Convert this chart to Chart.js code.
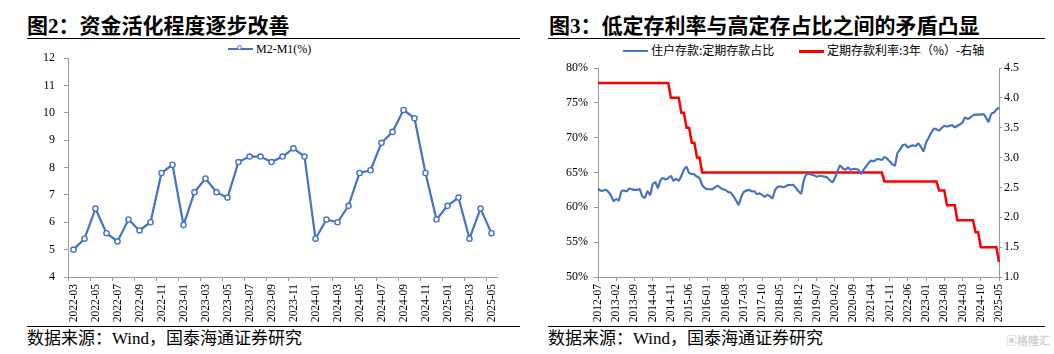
<!DOCTYPE html>
<html>
<head>
<meta charset="utf-8">
<script src="https://cdn.jsdelivr.net/npm/chart.js@4.4.0/dist/chart.umd.min.js"></script>
<style>
body{margin:0;background:#fff;width:1054px;height:354px;position:relative;overflow:hidden;font-family:"Liberation Serif","Noto Sans CJK SC",serif;color:#000;}
.title{position:absolute;top:14px;font-size:21px;font-weight:bold;white-space:nowrap;line-height:24px;}
.rule{position:absolute;height:0;border-top:1.5px solid #000;}
.src{position:absolute;top:329px;font-size:17px;line-height:20px;white-space:nowrap;}
.legend{position:absolute;font-size:12px;line-height:14px;white-space:nowrap;}
.legend .cjk{font-family:"Noto Sans CJK SC",sans-serif;}
.swatch{display:inline-block;width:25px;height:2px;vertical-align:middle;margin-right:3px;position:relative;top:-1px;}
.dot{position:absolute;left:9px;top:-3px;width:5px;height:5px;border-radius:50%;border:1.4px solid #4472C4;background:#fff;box-sizing:border-box;}
.mark{position:absolute;left:1006px;top:333px;font-family:"Noto Sans CJK SC",sans-serif;font-size:11px;line-height:14px;font-weight:bold;color:#d0d0d0;white-space:nowrap;}
canvas{position:absolute;}
</style>
</head>
<body>
<div class="title" style="left:27px;">图2：资金活化程度逐步改善</div>
<div class="title" style="left:549px;">图3：低定存利率与高定存占比之间的矛盾凸显</div>
<div class="rule" style="left:27px;width:493px;top:38px;"></div>
<div class="rule" style="left:548px;width:497px;top:38px;"></div>
<div class="rule" style="left:27px;width:493px;top:326px;"></div>
<div class="rule" style="left:548px;width:497px;top:326px;"></div>
<div class="src" style="left:27px;">数据来源：Wind，国泰海通证券研究</div>
<div class="src" style="left:548px;">数据来源：Wind，国泰海通证券研究</div>
<div class="mark">▣格隆汇</div>

<div class="legend" style="left:228px;top:42px;"><span class="swatch" style="background:#4472C4;"><span class="dot"></span></span>M2-M1(%)</div>
<div class="legend" style="left:623px;top:43px;"><span class="swatch" style="background:#4472C4;"></span><span class="cjk">住户存款:定期存款占比</span></div>
<div class="legend" style="left:799px;top:43px;"><span class="swatch" style="background:#FF0000;height:2.5px;"></span><span class="cjk">定期存款利率:3年（%）-右轴</span></div>

<canvas id="m2m1Chart" width="525" height="290" style="left:0;top:40px;"></canvas>
<canvas id="depositChart" width="524" height="290" style="left:530px;top:40px;"></canvas>

<script>
// 图2 M2-M1
const m2m1Months = [
    '2022-03', '2022-04', '2022-05', '2022-06', '2022-07', '2022-08', '2022-09', '2022-10', '2022-11', '2022-12',
    '2023-01', '2023-02', '2023-03', '2023-04', '2023-05', '2023-06', '2023-07', '2023-08', '2023-09', '2023-10',
    '2023-11', '2023-12', '2024-01', '2024-02', '2024-03', '2024-04', '2024-05', '2024-06', '2024-07', '2024-08',
    '2024-09', '2024-10', '2024-11', '2024-12', '2025-01', '2025-02', '2025-03', '2025-04', '2025-05'
];
const m2m1Values = [
    5.0, 5.4, 6.5, 5.6, 5.3, 6.1, 5.7, 6.0, 7.8, 8.1,
    5.9, 7.1, 7.6, 7.1, 6.9, 8.2, 8.4, 8.4, 8.2, 8.4,
    8.7, 8.4, 5.4, 6.1, 6.0, 6.6, 7.8, 7.9, 8.9, 9.3,
    10.1, 9.8, 7.8, 6.1, 6.6, 6.9, 5.4, 6.5, 5.6
];

// 图3 定期存款占比 / 3年定存利率, monthly 2012-07 .. 2025-05
const depositStart = '2012-07';
const depositCount = 155;
const timeDepositShare = [
    62.7, 62.4, 62.4, 62.5, 62.2, 61.7, 60.9, 61.2, 61.0, 62.3,
    62.4, 62.3, 62.7, 62.6, 62.5, 62.5, 62.6, 61.6, 61.4, 62.3,
    61.8, 63.3, 63.6, 62.8, 63.9, 64.2, 64.0, 64.2, 64.5, 63.8,
    64.1, 63.8, 64.5, 65.4, 65.8, 64.9, 64.8, 64.7, 64.4, 64.2,
    63.2, 62.8, 62.6, 62.6, 62.6, 62.9, 63.1, 62.8, 62.6, 62.5,
    62.2, 62.1, 61.6, 61.0, 60.4, 61.5, 62.2, 62.4, 62.5, 62.3,
    62.3, 61.9, 62.0, 61.8, 61.5, 61.8, 61.6, 61.3, 62.5, 62.9,
    63.0, 62.9, 63.0, 63.2, 63.2, 63.2, 62.8, 62.3, 62.0, 63.8,
    64.7, 64.8, 64.7, 64.6, 64.4, 64.5, 64.5, 64.4, 64.3, 63.9,
    63.6, 64.2, 65.2, 66.0, 65.6, 65.4, 65.7, 65.4, 65.5, 65.5,
    65.4, 64.8, 65.4, 65.9, 66.4, 66.7, 66.6, 66.9, 66.9, 66.8,
    67.2, 67.0, 66.6, 66.2, 66.0, 67.8, 68.3, 68.9, 69.0, 68.6,
    68.8, 68.9, 68.8, 69.2, 68.7, 68.1, 69.3, 70.0, 70.7, 71.3,
    71.2, 71.0, 71.4, 71.7, 71.6, 71.7, 71.8, 71.5, 71.7, 71.9,
    72.2, 72.9, 72.7, 72.9, 73.2, 73.3, 73.3, 73.3, 73.4, 72.9,
    72.3, 73.4, 73.6, 74.0, 74.3
];
const depositRate3y = [
    4.25, 4.25, 4.25, 4.25, 4.25, 4.25, 4.25, 4.25, 4.25, 4.25,
    4.25, 4.25, 4.25, 4.25, 4.25, 4.25, 4.25, 4.25, 4.25, 4.25,
    4.25, 4.25, 4.25, 4.25, 4.25, 4.25, 4.25, 4.25, 4.0, 4.0,
    4.0, 4.0, 3.75, 3.75, 3.5, 3.5, 3.25, 3.25, 3.0, 3.0,
    2.75, 2.75, 2.75, 2.75, 2.75, 2.75, 2.75, 2.75, 2.75, 2.75,
    2.75, 2.75, 2.75, 2.75, 2.75, 2.75, 2.75, 2.75, 2.75, 2.75,
    2.75, 2.75, 2.75, 2.75, 2.75, 2.75, 2.75, 2.75, 2.75, 2.75,
    2.75, 2.75, 2.75, 2.75, 2.75, 2.75, 2.75, 2.75, 2.75, 2.75,
    2.75, 2.75, 2.75, 2.75, 2.75, 2.75, 2.75, 2.75, 2.75, 2.75,
    2.75, 2.75, 2.75, 2.75, 2.75, 2.75, 2.75, 2.75, 2.75, 2.75,
    2.75, 2.75, 2.75, 2.75, 2.75, 2.75, 2.75, 2.75, 2.75, 2.75,
    2.6, 2.6, 2.6, 2.6, 2.6, 2.6, 2.6, 2.6, 2.6, 2.6,
    2.6, 2.6, 2.6, 2.6, 2.6, 2.6, 2.6, 2.6, 2.6, 2.6,
    2.6, 2.45, 2.45, 2.45, 2.2, 2.2, 2.2, 2.2, 1.95, 1.95,
    1.95, 1.95, 1.95, 1.95, 1.95, 1.75, 1.75, 1.5, 1.5, 1.5,
    1.5, 1.5, 1.5, 1.5, 1.25
];

const BLUE = '#4472C4';
const RED = '#FF0000';
const AXIS = '#9a9a9a';
const HIDDEN = 'rgba(0,0,0,0)';

Chart.defaults.font.family = '"Liberation Serif", "Times New Roman", serif';
Chart.defaults.color = '#000';

function monthLabels(start, count) {
    let [y, m] = start.split('-').map(Number);
    const out = [];
    for (let i = 0; i < count; i++) {
        out.push(`${y}-${String(m).padStart(2, '0')}`);
        m++;
        if (m > 12) { m = 1; y++; }
    }
    return out;
}
const depositMonths = monthLabels(depositStart, depositCount);

new Chart(document.getElementById('m2m1Chart'), {
    type: 'line',
    data: {
        labels: m2m1Months,
        datasets: [{
            label: 'M2-M1(%)',
            data: m2m1Values,
            borderColor: BLUE,
            borderWidth: 2.2,
            pointRadius: 2.6,
            pointBackgroundColor: '#fff',
            pointBorderColor: BLUE,
            pointBorderWidth: 1.4,
            tension: 0
        }]
    },
    options: {
        responsive: false,
        animation: false,
        devicePixelRatio: 1,
        layout: { padding: { left: 0, top: 18, right: 28, bottom: 0 } },
        plugins: { legend: { display: false }, tooltip: { enabled: false } },
        scales: {
            x: {
                offset: true,
                grid: { offset: true, drawOnChartArea: false, tickLength: 4, color: c => (c.index % 2 === 0 ? AXIS : HIDDEN) },
                border: { color: AXIS },
                ticks: {
                    autoSkip: false, minRotation: 90, maxRotation: 90, padding: 3,
                    font: { size: 11.5 },
                    callback: (v, i) => (i % 2 === 0 ? m2m1Months[i] : '')
                },
                afterFit: s => { s.height = 53; }
            },
            y: {
                min: 4, max: 12,
                grid: { drawOnChartArea: false, tickLength: 4, color: AXIS },
                border: { color: AXIS },
                ticks: { stepSize: 1, padding: 9, font: { size: 12 } },
                afterFit: s => { s.width = 68; }
            }
        }
    }
});

new Chart(document.getElementById('depositChart'), {
    type: 'line',
    data: {
        labels: depositMonths,
        datasets: [
            {
                label: '住户存款:定期存款占比',
                data: timeDepositShare,
                borderColor: BLUE,
                borderWidth: 2.2,
                pointRadius: 0,
                tension: 0.2,
                yAxisID: 'y'
            },
            {
                label: '定期存款利率:3年（%）-右轴',
                data: depositRate3y,
                borderColor: RED,
                borderWidth: 2.5,
                pointRadius: 0,
                tension: 0,
                yAxisID: 'y1'
            }
        ]
    },
    options: {
        responsive: false,
        animation: false,
        devicePixelRatio: 1,
        layout: { padding: { left: 0, top: 28, right: 0, bottom: 0 } },
        plugins: { legend: { display: false }, tooltip: { enabled: false } },
        scales: {
            x: {
                offset: false,
                grid: { drawOnChartArea: false, tickLength: 4, color: c => (c.index % 7 === 0 ? AXIS : HIDDEN) },
                border: { color: AXIS },
                ticks: {
                    autoSkip: false, minRotation: 90, maxRotation: 90, padding: 3,
                    font: { size: 11.5 },
                    callback: (v, i) => (i % 7 === 0 ? depositMonths[i] : '')
                },
                afterFit: s => { s.height = 53; }
            },
            y: {
                position: 'left',
                min: 50, max: 80,
                grid: { drawOnChartArea: false, tickLength: 4, color: AXIS },
                border: { color: AXIS },
                ticks: { stepSize: 5, padding: 6, font: { size: 12 }, callback: v => v + '%' },
                afterFit: s => { s.width = 68; }
            },
            y1: {
                position: 'right',
                min: 1, max: 4.5,
                grid: { drawOnChartArea: false, tickLength: 3, color: AXIS },
                border: { color: AXIS },
                ticks: { stepSize: 0.5, padding: 2, font: { size: 12 }, callback: v => v.toFixed(1) },
                afterFit: s => { s.width = 55; }
            }
        }
    }
});
</script>
</body>
</html>
